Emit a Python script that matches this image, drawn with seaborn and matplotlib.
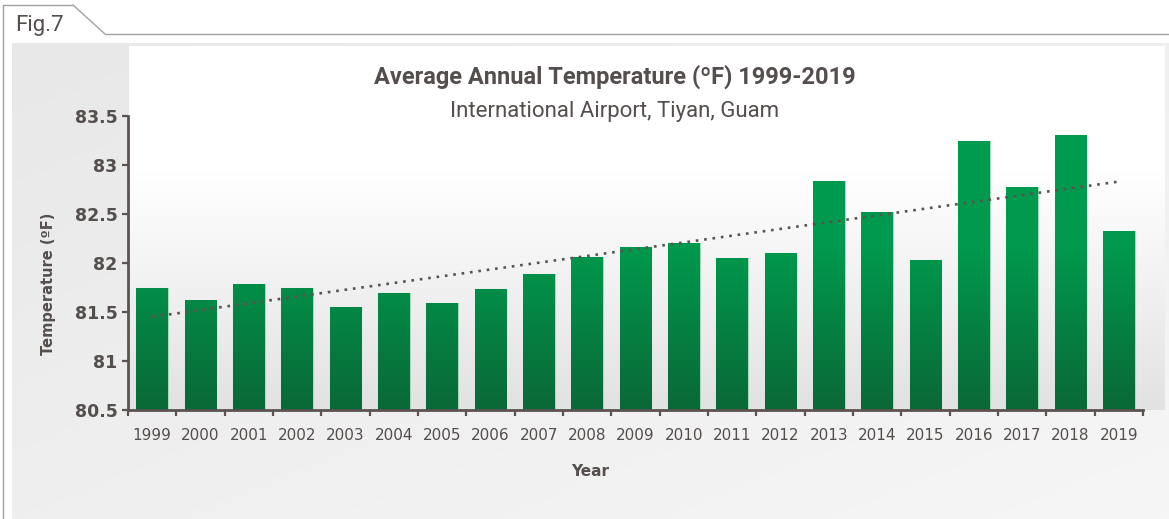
import numpy as np
import matplotlib.pyplot as plt
import seaborn as sns
from matplotlib.colors import LinearSegmentedColormap
from matplotlib.lines import Line2D

years = [str(y) for y in range(1999, 2020)]
temps = [81.74, 81.62, 81.79, 81.74, 81.55, 81.69, 81.59, 81.73, 81.89, 82.06,
         82.16, 82.20, 82.05, 82.10, 82.84, 82.52, 82.03, 83.24, 82.78, 83.31, 82.33]
yticks = [80.5, 81, 81.5, 82, 82.5, 83, 83.5]
ytick_labels = ["80.5", "81", "81.5", "82", "82.5", "83", "83.5"]

W, H = 1169, 519
TXT = "#544e4d"
AXC = "#5b5351"

sns.set_theme(style="white")
plt.rcParams["font.family"] = ["DejaVu Sans"]

fig = plt.figure(figsize=(W / 100, H / 100), dpi=100, facecolor="white")

# light grey panel behind everything
bg = fig.add_axes([12 / W, 0, 1 - 12 / W, (H - 43) / H])
gy, gx = np.mgrid[0:1:100j, 0:1:200j]
bg.imshow(gx * 0.5 + gy * 0.5, cmap=LinearSegmentedColormap.from_list("p", ["#e9e8e8", "#f6f6f6"]),
          aspect="auto", extent=[0, 1, 0, 1], origin="upper")
bg.axis("off")

# white-to-grey area of the chart
cbg = fig.add_axes([129 / W, (H - 410) / H, (1165 - 129) / W, (410 - 46) / H])
cbg.imshow(np.linspace(0, 1, 200).reshape(-1, 1),
           cmap=LinearSegmentedColormap.from_list("c", [(0, "#ffffff"), (0.35, "#ffffff"), (1, "#e2e2e2")]),
           aspect="auto", extent=[0, 1, 0, 1], origin="upper")
cbg.axis("off")

# tab outline with Fig.7
for xs, ys in [([3, 3], [5, H]), ([3, 73], [5, 5]), ([73, 105], [5, 34]), ([105, W], [34, 34])]:
    fig.add_artist(Line2D([x / W for x in xs], [1 - y / H for y in ys], color="#a5a1a1", lw=1,
                          transform=fig.transFigure))
fig.text(15 / W, 1 - 25 / H, "Fig.7", fontsize=16, color=TXT, family=["Roboto", "DejaVu Sans"],
         va="center", ha="left")

ax = fig.add_axes([128 / W, (H - 410) / H, (1143 - 128) / W, 294 / H])
ax.set_facecolor("none")

sns.barplot(x=years, y=temps, color="#009a4e", width=0.65, ax=ax,
            edgecolor="#a6dcbc", linewidth=0.8, zorder=2)

green = LinearSegmentedColormap.from_list("g", [(0, "#0a6837"), (0.55, "#00994d"), (1, "#009c50")])
grad = np.linspace(0, 1, 256).reshape(-1, 1)
for p in list(ax.patches):
    x0 = p.get_x()
    im = ax.imshow(grad, cmap=green, aspect="auto", origin="lower",
                   extent=[x0, x0 + p.get_width(), 80.5, 83.5], zorder=2.5)
    im.set_clip_path(p)

# linear trend
xi = np.arange(len(temps))
coef = np.polyfit(xi, temps, 1)
ax.plot(xi, np.polyval(coef, xi), color=AXC, lw=1.9, linestyle=(0, (1, 2.2)), zorder=4)

ax.set_xlim(-0.5, len(years) - 0.5)
ax.set_ylim(80.5, 83.5)
ax.set_yticks(yticks)
ax.set_yticklabels(ytick_labels, fontsize=12.5, fontweight="bold", color=TXT)
ax.set_xticks(np.arange(-0.5, len(years), 1))
ax.set_xticklabels([])
ax.set_xticks(xi, minor=True)
ax.set_xticklabels(years, minor=True, fontsize=11, color=TXT)
ax.tick_params(axis="x", which="major", direction="out", length=4.5, width=1.6, color=AXC, bottom=True)
ax.tick_params(axis="x", which="minor", length=0, pad=13)
ax.tick_params(axis="y", direction="out", length=4.5, width=1.6, color=AXC, left=True, pad=3)

for s in ["top", "right"]:
    ax.spines[s].set_visible(False)
for s in ["left", "bottom"]:
    ax.spines[s].set_color(AXC)
    ax.spines[s].set_linewidth(2)
    ax.spines[s].set_zorder(5)

ax.set_xlabel("")
ax.set_ylabel("Temperature (ºF)", fontsize=10.5, fontweight="bold", color=TXT)
ax.yaxis.set_label_coords((56 - 128) / 1015, 1 - (284 - 116) / 294)

fig.text(590 / W, 1 - 472 / H, "Year", fontsize=11, fontweight="bold", color=TXT, ha="center", va="center")
fig.text(615 / W, 1 - 77 / H, "Average Annual Temperature (ºF) 1999-2019", fontsize=17, fontweight="bold",
         color=TXT, ha="center", va="center", family=["Roboto", "DejaVu Sans"])
fig.text(615 / W, 1 - 112 / H, "International Airport, Tiyan, Guam", fontsize=16,
         color=TXT, ha="center", va="center", family=["Roboto", "DejaVu Sans"])

fig.savefig("out.png", dpi=100)
